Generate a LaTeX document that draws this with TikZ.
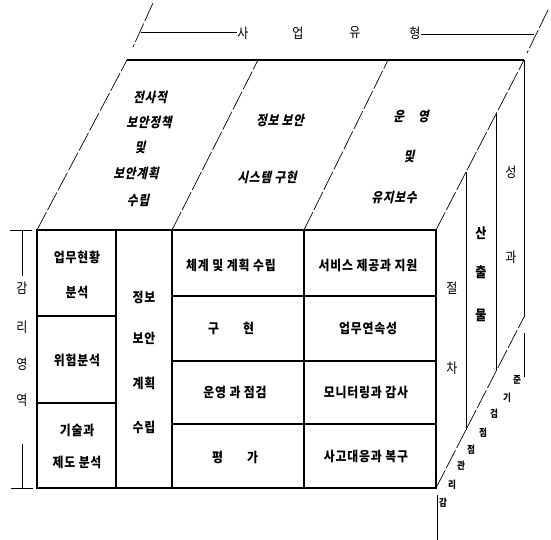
\documentclass[tikz,border=0pt]{standalone}
\usepackage{fontspec}
\newfontfamily\kr[FakeStretch=0.86]{Noto Sans CJK KR}
\newfontfamily\krs[FakeStretch=0.88,LetterSpace=6]{Noto Sans CJK KR}
\newfontfamily\kri[FakeStretch=0.86,FakeSlant=0.22,LetterSpace=6]{Noto Sans CJK KR}
\begin{document}
\begin{tikzpicture}[x=1pt,y=-1pt]
\tikzset{
  face/.style={line width=1.3pt},
  thinl/.style={line width=0.7pt},
  slantl/.style={line width=0.7pt, dash pattern=on 20pt off 2.5pt},
  cell/.style={font=\krs\bfseries\fontsize{13.5}{15}\selectfont, inner sep=0pt},
  topt/.style={font=\kri\bfseries\fontsize{13.5}{15}\selectfont, inner sep=0pt},
  lab/.style={font=\kr\fontsize{14}{16}\selectfont, inner sep=0pt},
  labb/.style={font=\kr\bfseries\fontsize{14}{16}\selectfont, inner sep=0pt},
  smalll/.style={font=\kr\bfseries\fontsize{10}{12}\selectfont, inner sep=0pt}
}
\useasboundingbox (0,0) rectangle (551,540);
% key corners
\coordinate (FL) at (37,230);  \coordinate (FR) at (436,230);
\coordinate (BL) at (37,488);  \coordinate (BR) at (436,488);
\coordinate (TL) at (127,60);  \coordinate (TR) at (524,60);
\coordinate (SR) at (524,317);
% front face
\draw[face] (FL) rectangle (BR);
\draw[face] (116,230) -- (116,488);
\draw[face] (172,230) -- (172,488);
\draw[face] (304,230) -- (304,488);
\draw[face] (37,316) -- (116,316);
\draw[face] (37,403) -- (116,403);
\draw[face] (172,296) -- (436,296);
\draw[face] (172,361) -- (436,361);
\draw[face] (172,424) -- (436,424);
% top face
\draw[face] (TL) -- (TR);
\draw[slantl] (FL) -- (TL);
\draw[slantl] (172,230) -- (258,60);
\draw[slantl] (304,230) -- (388,60);
\draw[slantl] (FR) -- (TR);
% side face
\draw[thinl] (TR) -- (SR);
\draw[slantl] (BR) -- (SR);
\draw[thinl] (466,172) -- (466,430);
\draw[thinl] (496,114) -- (496,370);
% header
\draw[slantl] (153,3) -- (133,47);
\draw[slantl] (548,10) -- (527,53);
\draw[line width=0.9pt] (141,32) -- (237,32);
\draw[line width=0.9pt] (421,34) -- (534,34);
\node[lab] (h1) at (243,33) {사};
\node[lab] (h2) at (298,33) {업};
\node[lab] (h3) at (355,33) {유};
\node[lab] (h4) at (415,33) {형};
% left label
\draw[thinl] (10,230) -- (32,230);
\draw[thinl] (22,230) -- (22,276);
\draw[thinl] (22,444) -- (22,488);
\draw[thinl] (11,488) -- (33,488);
\node[lab] (l1) at (22,288) {감};
\node[lab] (l2) at (22,327) {리};
\node[lab] (l3) at (22,364) {영};
\node[lab] (l4) at (22,400) {역};
% top face texts
\node[topt] (t1) at (150,97) {전사적};
\node[topt] (t2) at (149,122) {보안정책};
\node[topt] (t3) at (140,147) {및};
\node[topt] (t4) at (136,173) {보안계획};
\node[topt] (t5) at (138,200) {수립};
\node[topt] (t6) at (280,120) {정보 보안};
\node[topt] (t7) at (267,177) {시스템 구현};
\node[topt] (t8) at (411,116) {운\hspace{14pt}영};
\node[topt] (t9) at (409,156) {및};
\node[topt] (t10) at (394,197) {유지보수};
% left columns
\node[cell] (a1) at (77,257) {업무현황};
\node[cell] (a2) at (77,292) {분석};
\node[cell] (a3) at (77,360) {위험분석};
\node[cell] (a4) at (77,430) {기술과};
\node[cell] (a5) at (77,462) {제도 분석};
\node[cell] (b1) at (144,297) {정보};
\node[cell] (b2) at (144,338) {보안};
\node[cell] (b3) at (144,383) {계획};
\node[cell] (b4) at (144,427) {수립};
% table
\node[cell] (c1) at (231,265) {체계 및 계획 수립};
\node[cell] (c2) at (231,328) {구\hspace{24pt}현};
\node[cell] (c3) at (235,392) {운영 과 점검};
\node[cell] (c4) at (235,457) {평\hspace{24pt}가};
\node[cell] (d1) at (368,265) {서비스 제공과 지원};
\node[cell] (d2) at (368,328) {업무연속성};
\node[cell] (d3) at (366,392) {모니터링과 감사};
\node[cell] (d4) at (366,456) {사고대응과 복구};
% side slabs
\node[lab] (s1) at (452,288) {절};
\node[lab] (s2) at (452,368) {차};
\node[labb] (p1) at (481,233) {산};
\node[labb] (p2) at (481,272) {출};
\node[labb] (p3) at (481,315) {물};
\node[lab] (q1) at (511,172) {성};
\node[lab] (q2) at (511,257) {과};
% bottom-right label
\draw[thinl] (437,495) -- (437,540);
\draw[thinl] (524,333) -- (524,377);
\node[smalll] (e1) at (443,503) {감};
\node[smalll] (e2) at (452,485) {리};
\node[smalll] (e3) at (461,466) {관};
\node[smalll] (e4) at (471,450) {점};
\node[smalll] (e5) at (483,433) {점};
\node[smalll] (e6) at (494,414) {검};
\node[smalll] (e7) at (507,398) {기};
\node[smalll] (e8) at (517,380) {준};
\end{tikzpicture}
\end{document}
